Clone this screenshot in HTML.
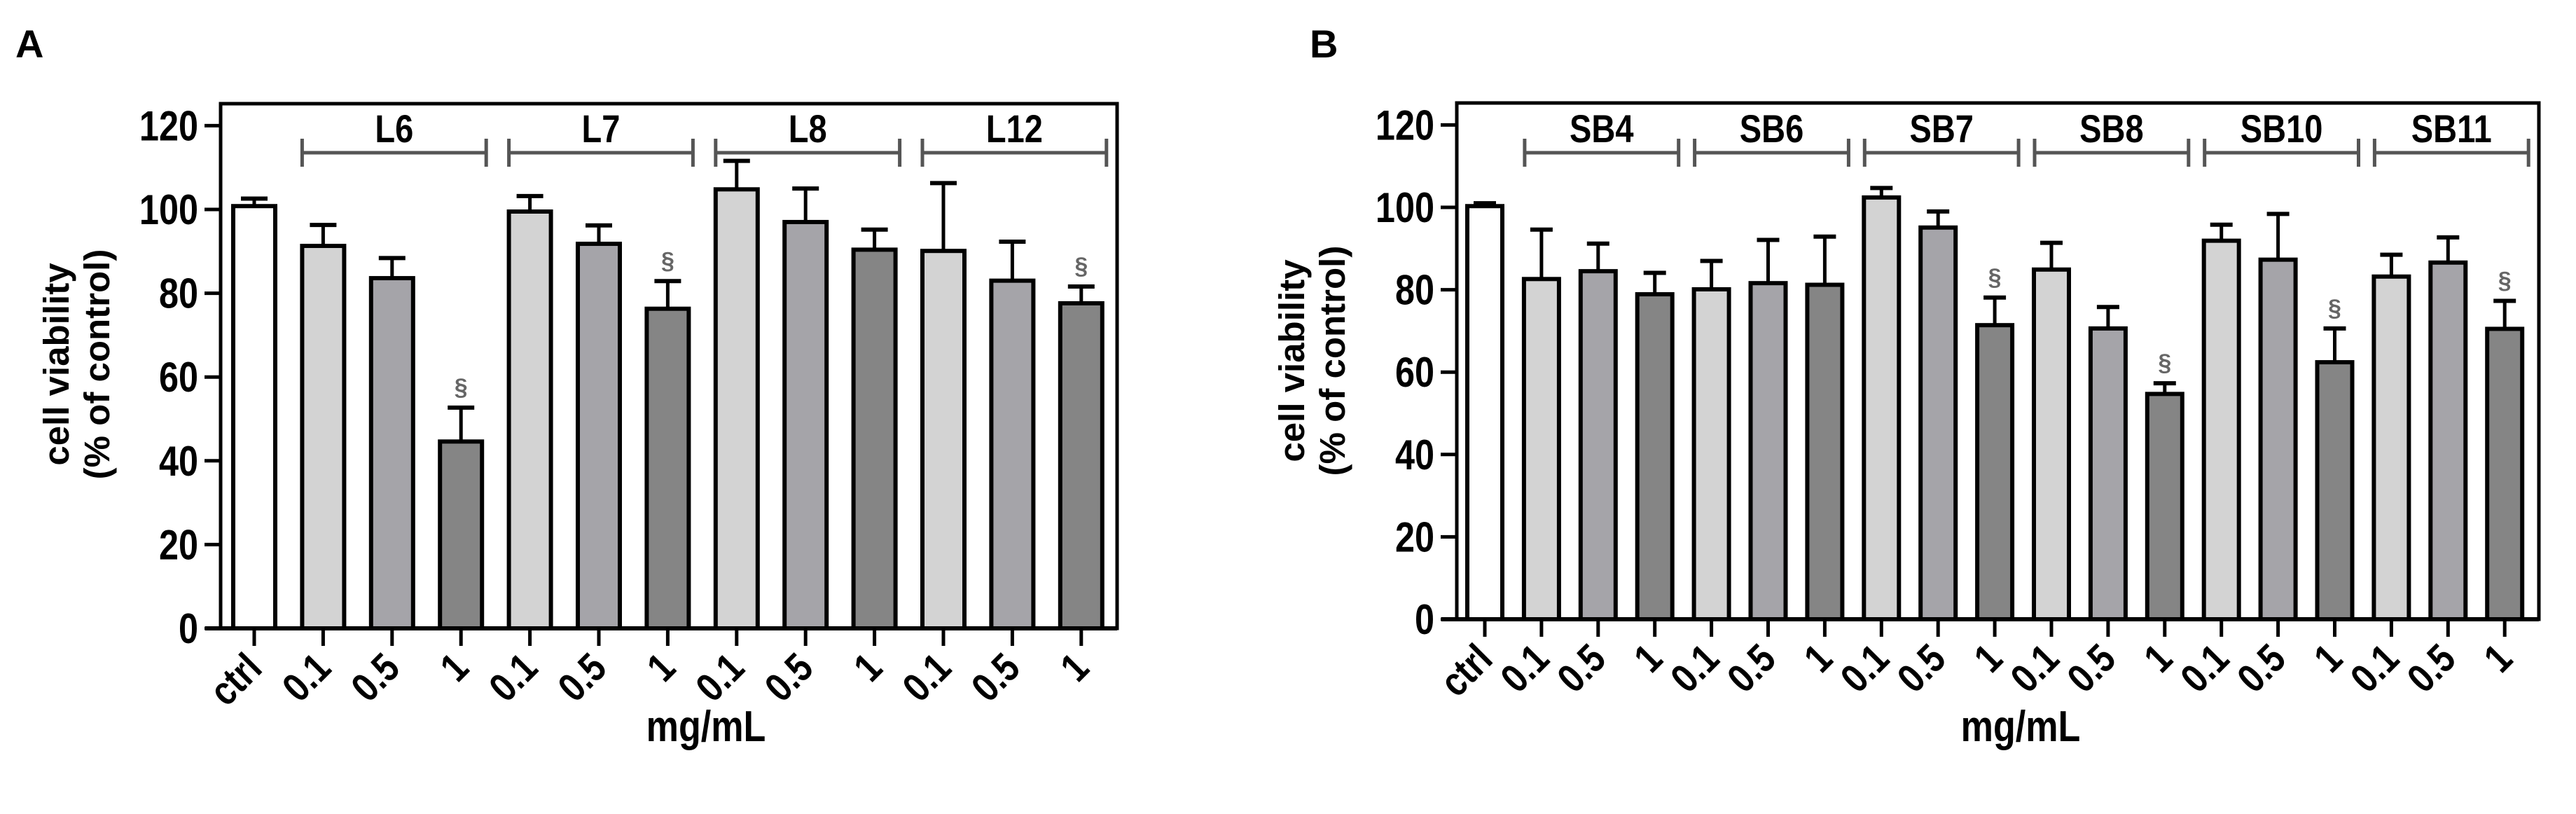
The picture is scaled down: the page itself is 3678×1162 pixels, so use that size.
<!DOCTYPE html>
<html><head><meta charset="utf-8"><style>
html,body{margin:0;padding:0;background:#fff;}
svg{display:block;}
text{font-family:"Liberation Sans Narrow","Liberation Sans",sans-serif;font-weight:bold;}
</style></head><body>
<svg id="fig" width="3678" height="1162" viewBox="0 0 3678 1162" xmlns="http://www.w3.org/2000/svg"></svg>
<script>
const yTicks = [0,20,40,60,80,100,120];
const catsA = ["ctrl","0.1","0.5","1","0.1","0.5","1","0.1","0.5","1","0.1","0.5","1"];
const valsA = [100.8,91.3,83.6,44.6,99.5,91.8,76.3,104.8,97,90.4,90.1,83,77.6];
const errA  = [102.6,96.3,88.4,52.7,103.2,96.2,82.9,111.6,105,95.2,106.3,92.3,81.6];
const sigA  = [0,0,0,1,0,0,1,0,0,0,0,0,1];
const groupsA = ["L6","L7","L8","L12"];
const catsB = ["ctrl","0.1","0.5","1","0.1","0.5","1","0.1","0.5","1","0.1","0.5","1","0.1","0.5","1","0.1","0.5","1"];
const valsB = [100.3,82.6,84.5,78.9,80.1,81.6,81.2,102.4,95.1,71.4,84.9,70.6,54.7,91.9,87.3,62.4,83.2,86.6,70.5];
const errB  = [101,94.6,91.2,84.1,87,92.1,92.9,104.7,99,78.1,91.4,75.8,57.3,95.8,98.4,70.6,88.5,92.7,77.3];
const sigB  = [0,0,0,0,0,0,0,0,0,1,0,0,1,0,0,1,0,0,1];
const groupsB = ["SB4","SB6","SB7","SB8","SB10","SB11"];

const NS="http://www.w3.org/2000/svg";
const svg=document.getElementById('fig');
function mk(tag,attrs,parent){const e=document.createElementNS(NS,tag);for(const k in attrs)e.setAttribute(k,attrs[k]);(parent||svg).appendChild(e);return e;}
const fills=["#ffffff","#d3d3d3","#a5a4a9","#858585"];
const SX=0.84;

function panel(o){
  const g=mk('g',{});
  
  
  const y=v=>o.y0-v*o.ppu;
  const x=i=>o.c0+i*o.step;
  const L=mk('text',{x:o.letterX,y:82,'font-size':56,'font-family':'Liberation Sans'},g);L.textContent=o.letter;
  
  
  const fr=mk('rect',{x:o.left,y:o.top,width:o.right-o.left,height:o.y0-o.top,fill:'none',stroke:'#000','stroke-width':5},g);
  
  
  const ax=mk('line',{x1:o.left-22,y1:o.y0,x2:o.right,y2:o.y0,stroke:'#000','stroke-width':6},g);
  
  
  yTicks.forEach(t=>{
    const tl=mk('line',{x1:o.left-23,y1:y(t),x2:o.left,y2:y(t),stroke:'#000','stroke-width':5},g);
    
    
    const tx=mk('text',{x:0,y:0,'text-anchor':'end','font-size':60,transform:`translate(${o.left-32} ${y(t)+21}) scale(${SX} 1)`},g);tx.textContent=t;
    
    
  });
  o.cats.forEach((c,i)=>{
    const cx=x(i), v=o.vals[i], e=o.errs[i];
    const col = i===0?0:((i-1)%3)+1;
    const eb=mk('line',{x1:cx,y1:y(e),x2:cx,y2:y(v),stroke:'#000','stroke-width':5},g);
    
    
    const ec=mk('line',{x1:cx-o.cap/2,y1:y(e),x2:cx+o.cap/2,y2:y(e),stroke:'#000','stroke-width':6},g);
    
    
    const b=mk('rect',{x:cx-o.bw/2+3,y:y(v),width:o.bw-6,height:o.y0-y(v),fill:fills[col],stroke:'#000','stroke-width':6},g);
    
    
    const tk=mk('line',{x1:cx,y1:o.y0,x2:cx,y2:o.y0+25,stroke:'#000','stroke-width':5},g);
    
    
    const ax2=cx+14, ay=o.y0+60;
    const lb=mk('text',{x:0,y:0,'text-anchor':'end','font-size':58,transform:`translate(${ax2} ${ay}) rotate(-45) scale(${SX} 1)`},g);lb.textContent=c;
    
    
    if(o.sig[i]){
      const s=mk('text',{x:cx,y:y(e)-18,'text-anchor':'middle','font-size':34,fill:'#666','font-weight':'normal','font-family':'Liberation Sans'},g);s.textContent='§';
      
      
    }
  });
  o.groups.forEach((gn,k)=>{
    const a=x(1+k*3)-o.bl, b=x(3+k*3)+o.br, by=218;
    const p=mk('path',{d:`M${a} ${by}H${b}M${a} ${by-20}V${by+20}M${b} ${by-20}V${by+20}`,stroke:'#555','stroke-width':5,fill:'none'},g);
    
    
    const t=mk('text',{x:0,y:0,'text-anchor':'middle','font-size':56,transform:`translate(${(a+b)/2} 203) scale(${SX} 1)`},g);t.textContent=gn;
    
    
  });
  const yt=mk('text',{transform:`translate(${o.ytX} ${o.ytY}) rotate(-90)`,'text-anchor':'middle','font-size':51,'font-family':'Liberation Sans'},g);
  
  
  const t1=mk('tspan',{x:0,y:0},yt);t1.textContent='cell viability';
  const t2=mk('tspan',{x:0,y:58},yt);t2.textContent='(% of control)';
  const xt=mk('text',{x:0,y:0,'text-anchor':'middle','font-size':62,transform:`translate(${o.xtX} 1058) scale(${SX} 1)`},g);xt.textContent='mg/mL';
  
  
}
panel({name:'panel-a',letter:'A',letterX:22,left:315,right:1595,top:148,y0:897,ppu:5.98,c0:363,step:98.4,bw:66,cap:38,bl:30,br:36,
  cats:catsA,vals:valsA,errs:errA,sig:sigA,groups:groupsA,ytX:98,ytY:520,xtX:1008});
panel({name:'panel-b',letter:'B',letterX:1870,left:2080,right:3625,top:147,y0:884,ppu:5.88,c0:2120,step:80.9,bw:56,cap:32,bl:24,br:34,
  cats:catsB,vals:valsB,errs:errB,sig:sigB,groups:groupsB,ytX:1862,ytY:515,xtX:2885});
</script>
</body></html>
